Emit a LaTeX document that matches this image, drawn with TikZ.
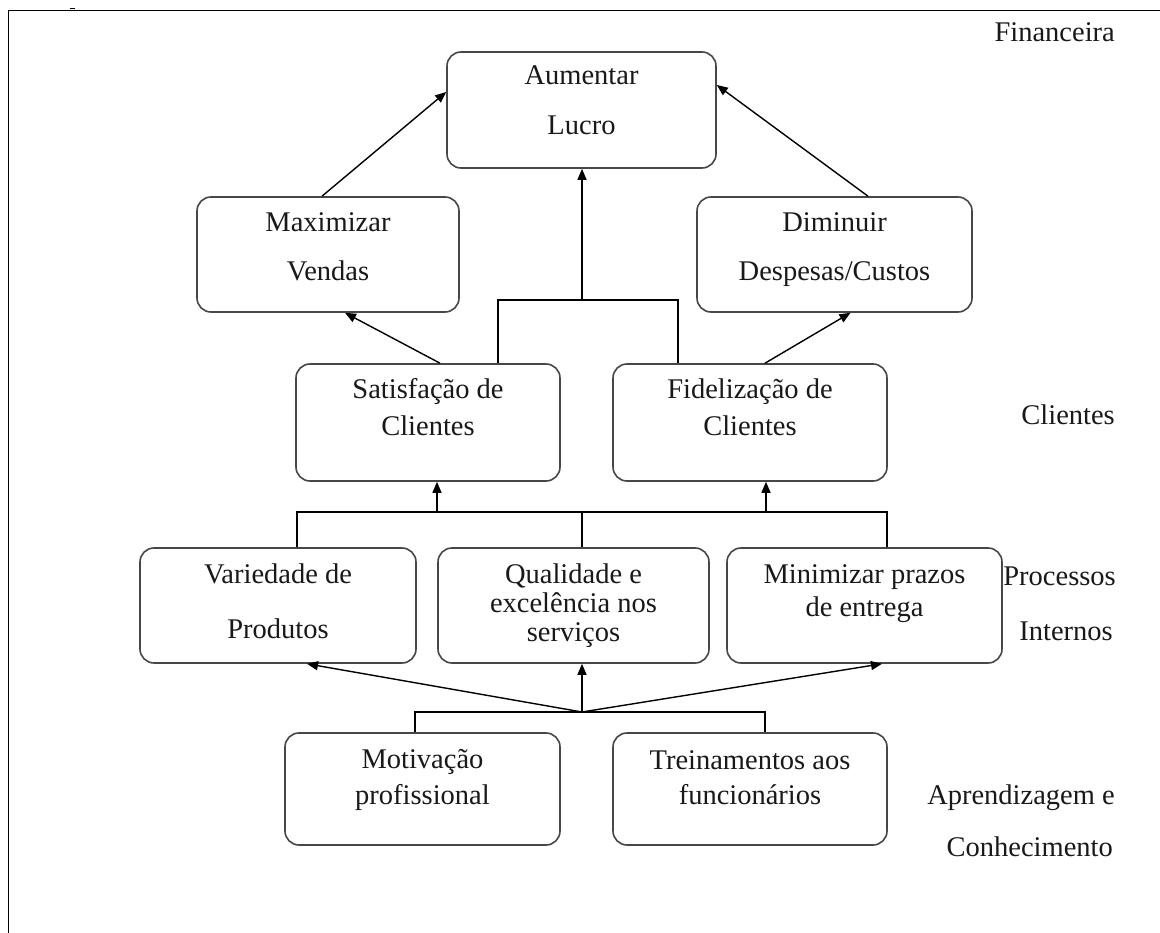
\documentclass[tikz,border=0pt]{standalone}
\usepackage{fontspec}
\setmainfont{Liberation Serif}
\usetikzlibrary{arrows.meta}
\begin{document}
\begin{tikzpicture}[x=1pt,y=-1pt,
  box/.style={draw=black!72, line width=1.6pt, rounded corners=14pt, inner sep=0pt, fill=white},
  txt/.style={inner sep=0pt, anchor=mid, yshift=-4pt, font=\fontsize{28.5}{30}\selectfont, text=black!90},
  lab/.style={inner sep=0pt, anchor=mid east, yshift=-4pt, font=\fontsize{28.5}{30}\selectfont, text=black!90},
  conn/.style={line width=1.4pt, black},
  arr/.style={conn, -{Triangle[length=11pt,width=9pt]}},
  frame/.style={line width=1.5pt, black}]
\useasboundingbox (0,0) rectangle (1160,933);
% frame
\coordinate (fbl) at (8.5,933);
\coordinate (ftl) at (8.5,10.5);
\coordinate (ftr) at (1160,10.5);
\draw[frame] (fbl) -- (ftl) -- (ftr);
\coordinate (tickA) at (69.5,8.5);
\coordinate (tickB) at (74.5,8.5);
\draw[frame] (tickA) -- (tickB);
% boxes
\node[box, minimum width=269pt, minimum height=116pt] (A)  at (581.5,110) {};
\node[box, minimum width=262pt, minimum height=115pt] (MV) at (328,254.5) {};
\node[box, minimum width=275pt, minimum height=115pt] (DC) at (834.5,254.5) {};
\node[box, minimum width=264pt, minimum height=117pt] (SC) at (428,422.5) {};
\node[box, minimum width=274pt, minimum height=117pt] (FC) at (750,422.5) {};
\node[box, minimum width=276pt, minimum height=115pt] (VP) at (278,605.5) {};
\node[box, minimum width=271pt, minimum height=115pt] (QE) at (573.5,605.5) {};
\node[box, minimum width=275pt, minimum height=115pt] (MP) at (864.5,605.5) {};
\node[box, minimum width=275pt, minimum height=112pt] (MO) at (422.5,789) {};
\node[box, minimum width=274pt, minimum height=112pt] (TF) at (750,789) {};
% texts
\node[txt] (tA1) at (581.5,78) {Aumentar};
\node[txt] (tA2) at (581.5,128) {Lucro};
\node[txt] (tMV1) at (328,225) {Maximizar};
\node[txt] (tMV2) at (328,274) {Vendas};
\node[txt] (tDC1) at (834.5,225) {Diminuir};
\node[txt] (tDC2) at (834.5,274) {Despesas/Custos};
\node[txt] (tSC1) at (428,392) {Satisfação de};
\node[txt] (tSC2) at (428,429) {Clientes};
\node[txt] (tFC1) at (750,392) {Fidelização de};
\node[txt] (tFC2) at (750,429) {Clientes};
\node[txt] (tVP1) at (278,577) {Variedade de};
\node[txt] (tVP2) at (278,632) {Produtos};
\node[txt] (tQE1) at (573.5,577) {Qualidade e};
\node[txt] (tQE2) at (573.5,606) {excelência nos};
\node[txt] (tQE3) at (573.5,635) {serviços};
\node[txt] (tMP1) at (864.5,577) {Minimizar prazos};
\node[txt] (tMP2) at (864.5,610) {de entrega};
\node[txt] (tMO1) at (422.5,762) {Motivação};
\node[txt] (tMO2) at (422.5,798) {profissional};
\node[txt] (tTF1) at (750,763) {Treinamentos aos};
\node[txt] (tTF2) at (750,798) {funcionários};
% perspective labels
\node[lab] (lF)  at (1115,35)  {Financeira};
\node[lab] (lC)  at (1115,418) {Clientes};
\node[lab] (lP)  at (1116,579) {Processos};
\node[lab] (lI)  at (1113,634) {Internos};
\node[lab] (lAp) at (1115,798) {Aprendizagem e};
\node[lab] (lCo) at (1113,850) {Conhecimento};
% connectors top level
\draw[arr] ([xshift=-6pt]MV.north) -- ([yshift=18pt]A.west);
\draw[arr] ([xshift=33.5pt]DC.north) -- ([yshift=25pt]A.east);
\draw[arr] ([xshift=12pt]SC.north) -- ([xshift=17pt]MV.south);
\draw[arr] ([xshift=15pt]FC.north) -- ([xshift=16pt]DC.south);
\coordinate (topbar) at (582,300);
\draw[conn] ([xshift=70pt]SC.north) |- (topbar) -| ([xshift=-72pt]FC.north);
\draw[arr] (topbar) -- (topbar |- A.south);
% middle bar
\coordinate (midbar) at (582,512);
\draw[conn] ([xshift=19pt]VP.north) |- (midbar) -| ([xshift=22.5pt]MP.north);
\draw[conn] (midbar) -- (midbar |- QE.north);
\coordinate (scb) at ([xshift=9pt]SC.south);
\coordinate (fcb) at ([xshift=16pt]FC.south);
\draw[arr] (scb |- midbar) -- (scb);
\draw[arr] (fcb |- midbar) -- (fcb);
% bottom hub
\coordinate (hub) at (582,712);
\draw[conn] ([xshift=-7.5pt]MO.north) |- (hub) -| ([xshift=15pt]TF.north);
\draw[arr] (hub) -- ([xshift=29pt]VP.south);
\draw[arr] (hub) -- (hub |- QE.south);
\draw[arr] (hub) -- ([xshift=17.5pt]MP.south);
\end{tikzpicture}
\end{document}
